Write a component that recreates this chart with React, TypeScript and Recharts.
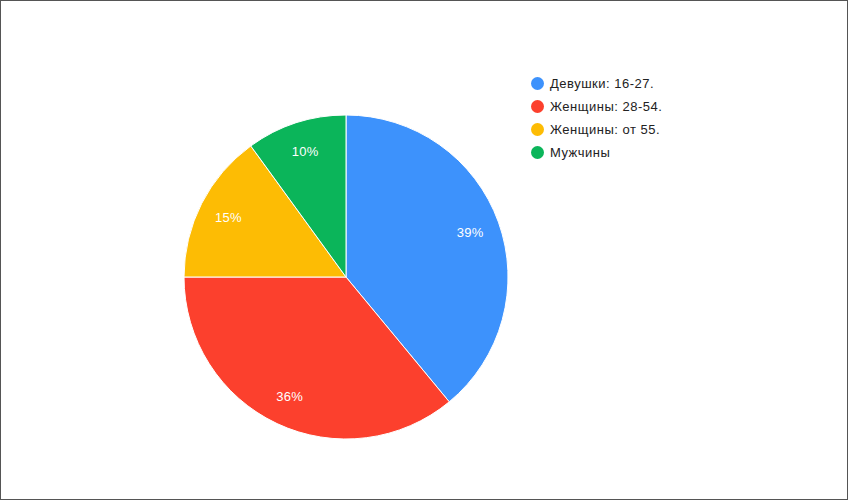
import { Cell, Legend, Pie, PieChart } from "recharts";

const categories = ["Девушки: 16-27.", "Женщины: 28-54.", "Женщины: от 55.", "Мужчины"];
const shares = [39, 36, 15, 10];
const colors = ["#3d92fc", "#fc402d", "#fdbc04", "#0bb55a"];

const data = categories.map((name, i) => ({ name, value: shares[i] }));

const RADIAN = Math.PI / 180;

function renderLabel({ cx, cy, midAngle, outerRadius, value }: any) {
  const r = outerRadius * 0.815;
  const x = cx + r * Math.cos(-midAngle * RADIAN);
  const y = cy + r * Math.sin(-midAngle * RADIAN);
  return (
    <text
      x={x}
      y={y}
      fill="#fff"
      fontSize={13}
      fontFamily="'Liberation Sans', Arial, sans-serif"
      letterSpacing={0.3}
      textAnchor="middle"
      dominantBaseline="central"
    >
      {`${value}%`}
    </text>
  );
}

function renderLegend() {
  return (
    <div
      style={{
        fontFamily: "'Liberation Sans', Arial, sans-serif",
        fontSize: 13,
        letterSpacing: 0.5,
        color: "#222",
      }}
    >
      {categories.map((name, i) => (
        <div key={name} style={{ display: "flex", alignItems: "center", height: 23 }}>
          <span
            style={{
              width: 13,
              height: 13,
              borderRadius: "50%",
              background: colors[i],
              display: "inline-block",
              marginRight: 6,
            }}
          />
          <span>{name}</span>
        </div>
      ))}
    </div>
  );
}

export default function App() {
  return (
    <div
      style={{
        position: "fixed",
        left: 0,
        top: 0,
        width: 848,
        height: 500,
        boxSizing: "border-box",
        border: "1px solid #555",
        background: "#fff",
      }}
    >
      <PieChart
        width={846}
        height={498}
        margin={{ top: 0, right: 0, bottom: 0, left: 0 }}
        style={{ position: "absolute", left: 0, top: 0 }}
      >
        <Pie
          data={data}
          dataKey="value"
          nameKey="name"
          cx={345}
          cy={276}
          outerRadius={162}
          startAngle={90}
          endAngle={-270}
          stroke="#fff"
          strokeWidth={1}
          label={renderLabel}
          labelLine={false}
          isAnimationActive={false}
        >
          {data.map((entry, i) => (
            <Cell key={`cell-${entry.name}`} fill={colors[i]} />
          ))}
        </Pie>
        <Legend
          content={renderLegend}
          layout="vertical"
          wrapperStyle={{ position: "absolute", left: 530, top: 71, width: 220 }}
        />
      </PieChart>
    </div>
  );
}
